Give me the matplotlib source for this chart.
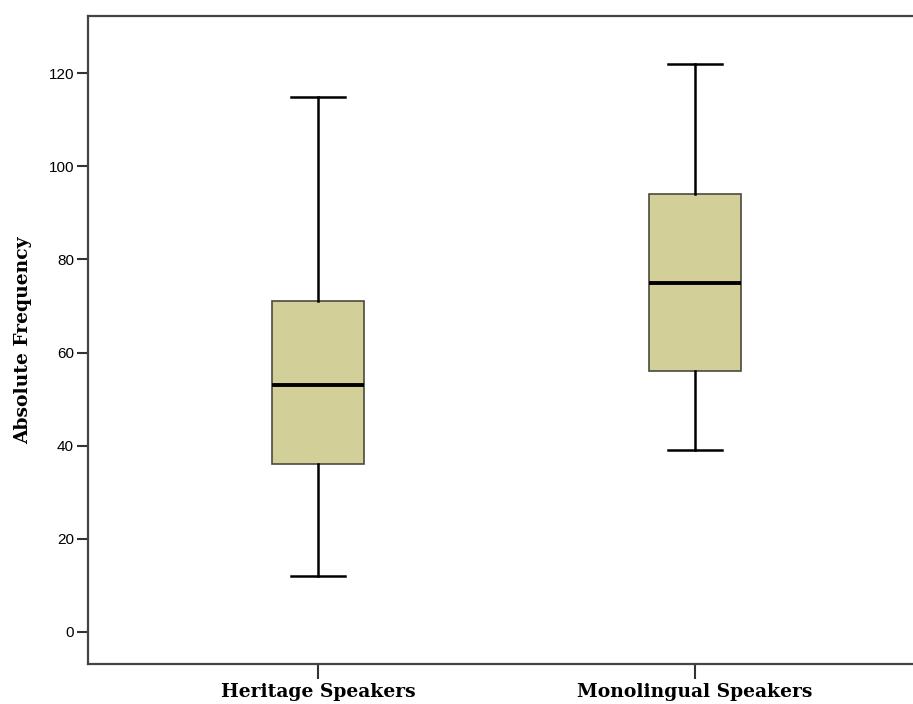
import matplotlib
matplotlib.use("Agg")
import matplotlib.pyplot as plt

groups = ["Heritage Speakers", "Monolingual Speakers"]
whisker_low = [12, 39]
q1 = [36, 56]
median = [53, 75]
q3 = [71, 94]
whisker_high = [115, 122]
y_ticks = [0, 20, 40, 60, 80, 100, 120]

stats = []
for i, name in enumerate(groups):
    stats.append({
        "label": name,
        "whislo": whisker_low[i],
        "q1": q1[i],
        "med": median[i],
        "q3": q3[i],
        "whishi": whisker_high[i],
        "fliers": [],
    })

fig = plt.figure(figsize=(9.13, 7.04), dpi=100)
ax = fig.add_axes([88 / 913, 40 / 704, 837 / 913, 648 / 704])

ax.bxp(
    stats,
    positions=[1, 2],
    widths=0.245,
    capwidths=0.143,
    patch_artist=True,
    showfliers=False,
    boxprops=dict(facecolor="#d3cf98", edgecolor="#4a4a40", linewidth=1.2),
    medianprops=dict(color="black", linewidth=2.8),
    whiskerprops=dict(color="black", linewidth=1.8),
    capprops=dict(color="black", linewidth=1.8),
)

ax.set_xlim(0.39, 2.61)
ax.set_ylim(-6.9, 132.3)
ax.set_yticks(y_ticks)
ax.set_xticks([1, 2])
ax.set_xticklabels(groups, fontfamily="DejaVu Serif", fontweight="bold", fontsize=13.5)
ax.set_ylabel("Absolute Frequency", fontfamily="DejaVu Serif", fontweight="bold",
              fontsize=13.5, labelpad=12)

for lbl in ax.get_yticklabels():
    lbl.set_fontfamily("Liberation Sans")
    lbl.set_fontsize(11)
ax.tick_params(axis="y", length=8, width=1.5, color="#333333", pad=2)
ax.tick_params(axis="x", length=11, width=1.5, color="#333333", pad=3)

for side in ["left", "bottom", "top", "right"]:
    ax.spines[side].set_color("#444444")
    ax.spines[side].set_linewidth(1.6)

fig.savefig("out.png", dpi=100)
